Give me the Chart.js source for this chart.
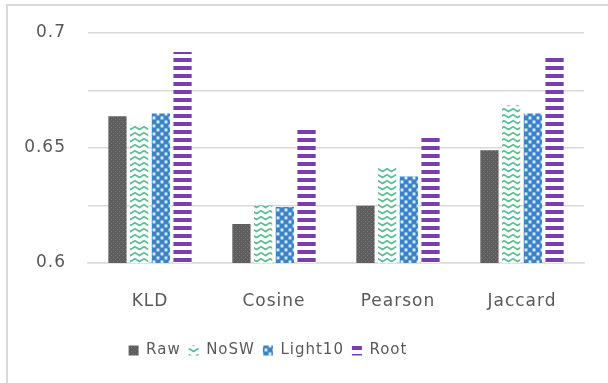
<!DOCTYPE html>
<html>
<head>
<meta charset="utf-8">
<script src="https://cdn.jsdelivr.net/npm/chart.js@4/dist/chart.umd.min.js"></script>
<style>
  html, body { margin: 0; padding: 0; background: #ffffff; }
  #wrap { width: 608px; height: 383px; }
</style>
</head>
<body>
<div id="wrap"><canvas id="c" width="608" height="383"></canvas></div>
<script>
// Similarity measures compared across preprocessing variants
const categories = ['KLD', 'Cosine', 'Pearson', 'Jaccard'];
const seriesNames = ['Raw', 'NoSW', 'Light10', 'Root'];
const rawValues     = [0.6638, 0.6170, 0.6249, 0.6490];
const noswValues    = [0.6603, 0.6250, 0.6415, 0.6686];
const light10Values = [0.6650, 0.6243, 0.6376, 0.6650];
const rootValues    = [0.6917, 0.6585, 0.6560, 0.6908];
const yTickLabels = { '0.7': '0.7', '0.65': '0.65', '0.6': '0.6' };

// --- fill patterns -------------------------------------------------------
function makePattern(w, h, paint) {
  const cv = document.createElement('canvas');
  cv.width = w; cv.height = h;
  const g = cv.getContext('2d');
  paint(g, w, h);
  return g.createPattern(cv, 'repeat');
}
const ctx = document.getElementById('c').getContext('2d');

// dark grey, fine speckle
const rawFill = makePattern(4, 4, (g, w, h) => {
  g.fillStyle = '#5e5e5e'; g.fillRect(0, 0, w, h);
  g.fillStyle = '#767676'; g.fillRect(1, 1, 1, 1); g.fillRect(3, 3, 1, 1);
});
// green zigzag chevrons on white
const noswFill = makePattern(9, 6, (g, w, h) => {
  g.fillStyle = '#ffffff'; g.fillRect(0, 0, w, h);
  g.strokeStyle = '#5cbf93'; g.lineWidth = 1.8;
  g.beginPath();
  g.moveTo(-0.5, 0.5); g.lineTo(4.5, 3.5); g.lineTo(9.5, 0.5);
  g.moveTo(-0.5, 6.5); g.lineTo(4.5, 9.5);
  g.stroke();
});
// blue with white dots
const lightFill = makePattern(8, 8, (g, w, h) => {
  g.fillStyle = '#5b9bd5'; g.fillRect(0, 0, w, h);
  g.fillStyle = '#3f82c4'; g.fillRect(0, 0, 4, 4); g.fillRect(4, 4, 4, 4);
  g.fillStyle = '#dcecf8';
  g.beginPath(); g.arc(6, 2, 1.4, 0, Math.PI * 2); g.fill();
  g.beginPath(); g.arc(2, 6, 1.4, 0, Math.PI * 2); g.fill();
});
// purple horizontal stripes
const rootFill = makePattern(8, 8, (g, w, h) => {
  g.fillStyle = '#ffffff'; g.fillRect(0, 0, w, h);
  g.fillStyle = '#7a3db0'; g.fillRect(0, 2, w, 4);
});

const fills = [rawFill, noswFill, lightFill, rootFill];
const seriesValues = [rawValues, noswValues, light10Values, rootValues];

// --- frame, background and letter spacing ----------------------------------
const framePlugin = {
  id: 'frame',
  beforeUpdate(chart) { chart.ctx.letterSpacing = '1px'; },
  beforeDraw(chart) {
    const c = chart.ctx;
    c.letterSpacing = '1px';
    c.save();
    c.fillStyle = '#ffffff';
    c.fillRect(0, 0, chart.width, chart.height);
    c.strokeStyle = '#d9d9d9';
    c.lineWidth = 2;
    c.strokeRect(7, 5, chart.width + 20, chart.height + 20);
    c.restore();
  }
};

// nudge the legend left so it sits under the category labels
const legendShift = {
  id: 'legendShift',
  afterLayout(chart) {
    const lg = chart.legend;
    if (lg) { lg.left -= 24; lg.right -= 24; }
  }
};

const gridColor = '#d9d9d9';
const textColor = '#595959';
const axisFont = { family: 'DejaVu Sans', size: 17 };
const legendFont = { family: 'DejaVu Sans', size: 15 };

new Chart(ctx, {
  type: 'bar',
  data: {
    labels: categories,
    datasets: seriesNames.map((name, i) => ({
      label: name,
      data: seriesValues[i],
      backgroundColor: fills[i],
      borderWidth: 0,
      categoryPercentage: 0.70,
      barPercentage: 0.84
    }))
  },
  options: {
    responsive: false,
    animation: false,
    devicePixelRatio: 1,
    layout: { padding: { left: 0, right: 24, top: 33, bottom: 15 } },
    plugins: {
      tooltip: { enabled: false },
      legend: {
        position: 'bottom',
        labels: { color: textColor, font: legendFont, boxWidth: 10, boxHeight: 10, padding: 8 }
      }
    },
    scales: {
      x: {
        grid: { display: false, drawTicks: false },
        border: { display: true, color: gridColor, width: 1.5 },
        ticks: { color: textColor, font: axisFont, padding: 28 },
        afterFit(scale) { scale.height = 72; }
      },
      y: {
        min: 0.6,
        max: 0.7,
        grid: { color: gridColor, lineWidth: 1.5, drawTicks: false },
        border: { display: false },
        ticks: {
          stepSize: 0.025,
          color: textColor,
          font: axisFont,
          padding: 22,
          callback(v) {
            const key = String(Math.round(v * 1000) / 1000);
            return yTickLabels[key] || '';
          }
        },
        afterFit(scale) { scale.width = 88; }
      }
    }
  },
  plugins: [framePlugin, legendShift]
});
</script>
</body>
</html>
